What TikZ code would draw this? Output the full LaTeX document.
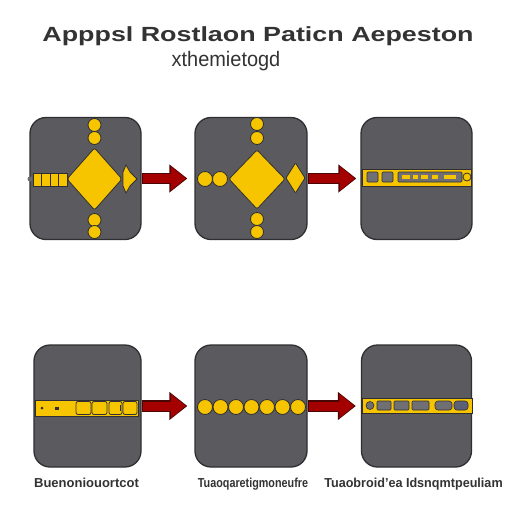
\documentclass[tikz,border=0pt]{standalone}
\usepackage{fontspec}
\setmainfont{Liberation Sans}
\usetikzlibrary{arrows.meta,positioning}

\definecolor{panelgrey}{HTML}{5B5B5F}
\definecolor{paneledge}{HTML}{2F2F31}
\definecolor{gold}{HTML}{F6C500}
\definecolor{arrowred}{HTML}{A50000}
\definecolor{arrowdark}{HTML}{4A0505}
\definecolor{textgrey}{HTML}{333333}
\definecolor{slotgrey}{HTML}{707074}
\definecolor{slotblue}{HTML}{5E6078}

\tikzset{
  panel/.style={draw=paneledge, line width=1.3pt, fill=panelgrey, rounded corners=16pt,
    minimum width=111pt, minimum height=122pt, inner sep=0pt},
  part/.style={draw=paneledge, line width=0.8pt, fill=gold},
  slot/.style={draw=paneledge, line width=0.6pt, fill=slotgrey, rounded corners=1pt},
  caption/.style={font=\fontsize{13}{15}\selectfont\bfseries, text=textgrey, inner sep=0pt}
}

% red block arrow from one panel to the next
\newcommand{\flowarrow}[3]{%
  \draw[line width=11.5pt, draw=arrowdark, -{Triangle[width=27pt,length=18pt]}, shorten >=#3] (#1.east) -- (#2.west);
  \draw[line width=9pt, draw=arrowred, -{Triangle[width=23pt,length=15pt]}, shorten >=#3+1.5pt, shorten <=1pt] (#1.east) -- (#2.west);}

\begin{document}
\begin{tikzpicture}[x=1pt, y=-1pt, thick]
  \useasboundingbox[fill=white] (0,0) rectangle (512,512);

  % the title
  \node[font=\fontsize{20.5}{24}\selectfont\bfseries, text=textgrey] (title) at (258,36)
    {\scalebox{1.31}[1]{Apppsl Rostlaon Paticn Aepeston}};
  \node[font=\fontsize{21}{24}\selectfont, text=textgrey] (subtitle) at (226,61)
    {\scalebox{0.95}[1]{xthemietogd}};

  % the six panels
  \node[panel] (tl) at (85.5,178.5) {};
  \node[panel, minimum width=112pt] (tm) at (251,178.5) {};
  \node[panel] (tr) at (416.5,178.5) {};
  \node[panel, minimum width=107pt] (bl) at (87.5,406) {};
  \node[panel, minimum width=112pt] (bm) at (251,406) {};
  \node[panel, minimum width=110pt] (br) at (416.5,406) {};

  % top left: squares, diamond and dots
  \fill[paneledge!70] (30,179) circle (2.5);
  \foreach \x in {33,41.5,50,58.5}
    \draw[part] (\x,173) rectangle ++(8.5,13);
  \foreach \y in {125,138,220,232}
    \draw[part] (94.5,\y) circle (6.5);
  \draw[part, rounded corners=2pt] (94.5,148) -- (122,179) -- (94.5,210) -- (67,179) -- cycle;
  \draw[part] (123,172) -- (126,165) -- (130,172) -- (137,179) -- (130,186) -- (126,193) -- (123,186) -- cycle;

  % top middle
  \foreach \x in {205,220}
    \draw[part] (\x,179) circle (7.5);
  \foreach \y in {124,138,219,232}
    \draw[part] (257,\y) circle (6.5);
  \draw[part, rounded corners=2pt] (257,150) -- (285,179) -- (257,209) -- (229,179) -- cycle;
  \draw[part, rounded corners=1pt] (295.5,163) -- (305,178) -- (295.5,193) -- (286,178) -- cycle;

  % top right: the flat strip
  \draw[part] (362,169) rectangle (471,186);
  \draw[slot] (367,172) rectangle (378,182);
  \draw[slot] (382,172) rectangle (393,182);
  \draw[slot] (398,172) rectangle (462,182);
  \foreach \x/\w in {402/8,413/5,421/7,432/6,444/12}
    \fill[gold] (\x,175) rectangle ++(\w,4);
  \draw[part] (467,177) circle (4);

  % bottom left: the strip of squares
  \draw[part] (35,400) rectangle (138,416);
  \fill[paneledge] (42,408) circle (1.5);
  \fill[paneledge] (55,407) rectangle ++(4,3);
  \foreach \x/\w in {76/15,92/15,109/13,123/14}
    \draw[part, rounded corners=2pt] (\x,401.5) rectangle ++(\w,13);
  \draw[paneledge] (120,405) -- (120,411);

  % bottom middle: the row of dots
  \foreach \i in {0,...,6}
    \draw[part] (205+15.5*\i,407) circle (7.5);

  % bottom right: the strip of slots
  \draw[part] (362,398) rectangle (472,413);
  \draw[slot] (370,405.5) circle (4);
  \draw[slot] (377,401) rectangle (391,410);
  \draw[slot] (394,401) rectangle (409,410);
  \draw[slot] (412,401) rectangle (429,410);
  \draw[slot, rounded corners=3pt] (435,401) rectangle (452,410);
  \draw[slot, rounded corners=3pt, fill=slotblue] (454,401) rectangle (468,410);

  % the arrows between the panels
  \flowarrow{tl}{tm}{7pt}
  \flowarrow{tm}{tr}{4pt}
  \flowarrow{bl}{bm}{7pt}
  \flowarrow{bm}{br}{5pt}

  % the captions
  \node[caption, below=10pt of bl, xshift=-1pt] (capl) {Buenoniouortcot};
  \node[caption, below=10pt of bm, xshift=2pt] (capm) {\scalebox{0.83}[1]{Tuaoqaretigmoneufre}};
  \node[caption, below=10pt of br, xshift=-3pt] (capr) {\scalebox{0.97}[1]{Tuaobroid'ea Idsnqmtpeuliam}};
\end{tikzpicture}
\end{document}
